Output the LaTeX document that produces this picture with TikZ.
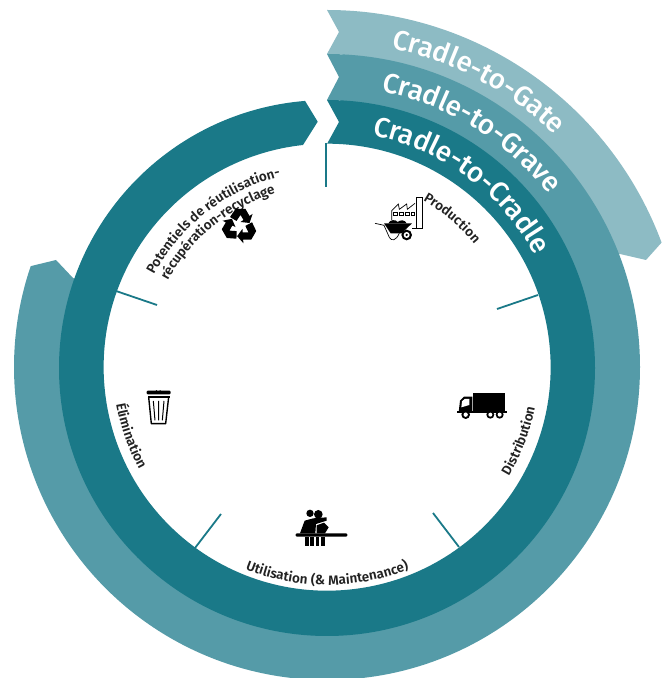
\documentclass[tikz,border=0pt]{standalone}
\usepackage{fontspec}
\setmainfont{Fira Sans}
\newfontfamily\bandfam{Fira Sans Medium}
\newfontfamily\labfam{Fira Sans SemiBold}
\definecolor{darkteal}{HTML}{1A7988}
\definecolor{midteal}{HTML}{559BA8}
\definecolor{lightteal}{HTML}{8DBBC4}
\definecolor{labelink}{HTML}{222222}
\tikzset{
  tick/.style={draw=darkteal,line width=1.8pt},
  ink/.style={fill=black,draw=none},
  inkline/.style={draw=black,fill=none,line width=0.9pt},
  paper/.style={fill=white,draw=none},
  px/.style={x=1pt,y=-1pt,yshift=678pt},
  glyph/.style={anchor=base,inner sep=0pt,outer sep=0pt},
}
\newlength\arcw
\newlength\arcp
\newcount\arcid
\makeatletter
% #1 radius, #2 start angle, #3 direction (+1 anticlockwise, -1 clockwise), #4 font, #5 colour, #6 text
\newcommand{\arctext}[6]{%
  \def\arc@prefix{}%
  \@tfor\arc@c:=#6\do{%
    \settowidth{\arcp}{\let\selectfont\pgf@selectfontorig #4\arc@prefix\arc@c}%
    \settowidth{\arcw}{\let\selectfont\pgf@selectfontorig #4\arc@c}%
    \pgfmathsetmacro\arc@ang{#2+(#3)*(\arcp-0.5*\arcw)/#1*57.29578}%
    \pgfmathsetmacro\arc@rot{\arc@ang+(#3)*90}%
    \global\advance\arcid by 1
    \node[glyph,rotate=\arc@rot,font=#4,text=#5] (g\the\arcid) at ([shift={(\arc@ang:#1)}]c) {\arc@c};%
    \edef\arc@prefix{\unexpanded\expandafter{\arc@prefix}\unexpanded\expandafter{\arc@c}}%
  }%
}
\makeatother
\newcommand{\bandf}{\bandfam\fontsize{27.8}{27.8}\selectfont}
\newcommand{\labf}{\labfam\fontsize{13.5}{13.5}\selectfont}
\begin{document}
\begin{tikzpicture}[x=1pt,y=1pt]
\useasboundingbox (0,0) rectangle (668,678);
\coordinate (c) at (327,311);
% rings
\fill[lightteal] (327,668) arc[start angle=90,end angle=20.4,radius=357pt] -- (646,418) -- (620,424)
  -- ([shift={(22:300)}]c) arc[start angle=22,end angle=87,radius=300pt] -- (342.7,623.6) -- (327,624) -- (339,646) -- cycle;
\fill[midteal] (327,624) arc[start angle=90,end angle=-198.8,radius=313pt] -- (56,418) -- (73,400)
  -- ([shift={(-199.3:255)}]c) arc[start angle=-199.3,end angle=87,radius=255pt] -- (340.3,577.7) -- (327,578) -- (339,601) -- cycle;
\fill[darkteal] (327,578) arc[start angle=90,end angle=-265.3,radius=268pt] -- (317.7,556.3) -- (303,533)
  arc[start angle=-263.8,end angle=90,radius=223.5pt] -- (339,556) -- cycle;
% ticks
\draw[tick] (326.2,535) -- (326.2,491);
\draw[tick] (497,369) -- (538,383);
\draw[tick] (433,165) -- (459,131);
\draw[tick] (221,164) -- (195,130);
\draw[tick] (157,373) -- (116,387);
% band labels
\arctext{325}{78.5}{-1}{\bandf}{white}{Cradle-to-Gate}
\arctext{281}{78.8}{-1}{\bandf}{white}{Cradle-to-Grave}
\arctext{236}{79}{-1}{\bandf}{white}{Cradle-to-Cradle}
% stage labels
\arctext{192}{60}{-1}{\labf}{labelink}{Production}
\arctext{212}{-31}{1}{\labf}{labelink}{Distribution}
\arctext{218}{-112}{1}{\labf}{labelink}{Utilisation\ (\&\ Maintenance)}
\arctext{214}{190}{1}{\labf}{labelink}{Élimination}
\arctext{196}{152}{-1}{\labf}{labelink}{Potentiels\ de\ réutilisation-}
\arctext{181}{151.5}{-1}{\labf}{labelink}{récupération-recyclage}
% factory and wheelbarrow
\begin{scope}[px,shift={(360,180)},x=0.3333pt,y=-0.3333pt]
  \draw[inkline,line width=0.7pt] (95,120) -- (95,92) -- (115,72) -- (118,88) -- (140,72) -- (142,88) -- (165,70);
  \draw[inkline,line width=0.8pt] (190,52) -- (170,52) -- (170,145) -- (155,145) (170,145) -- (188,145) -- (188,52);
  \foreach \wx in {100,118,136,153}{\draw[inkline,line width=0.6pt] (\wx,96) rectangle ++(11,11);}
  \fill[ink] (85,130) .. controls (90,118) and (108,118) .. (113,126) .. controls (122,118) and (135,120) .. (140,130) -- cycle;
  \fill[ink] (72,130) -- (156,130) -- (125,160) -- (92,160) -- cycle;
  \draw[inkline,line width=0.7pt] (45,130) -- (72,136) -- (88,172) .. controls (95,185) and (108,182) .. (118,160);
  \fill[ink] (140,165) circle[radius=16];
  \fill[paper] (140,165) circle[radius=9];
  \fill[ink] (140,165) circle[radius=4];
\end{scope}
% truck
\begin{scope}[px,shift={(440,380)},x=0.3333pt,y=-0.3333pt]
  \fill[ink] (100,40) rectangle (196,92);
  \fill[ink] (56,97) -- (60,62) -- (72,50) -- (97,50) -- (97,97) -- cycle;
  \fill[paper] (64,82) -- (66,64) -- (74,57) -- (88,57) -- (88,75) -- cycle;
  \fill[ink] (52,94) rectangle (200,100);
  \foreach \tx/\tr in {77/13,151/12,179/12}{
    \fill[ink] (\tx,104) circle[radius=\tr];
    \fill[paper] (\tx,104) circle[radius=\tr*0.5];}
\end{scope}
% people at a table
\begin{scope}[px,shift={(230,500)},x=0.3333pt,y=-0.3333pt]
  \fill[ink] (240,40) circle[radius=11];
  \fill[ink] (265,43) circle[radius=13];
  \fill[ink] (210,100) -- (224,62) -- (250,55) -- (290,52) -- (290,62) -- (258,72) -- (256,100) -- cycle;
  \fill[ink] (260,76) -- (282,68) -- (296,82) -- (285,100) -- (260,100) -- cycle;
  \fill[ink,rounded corners=1.2pt] (197,100) rectangle (352,110);
  \foreach \lx/\lw in {225/12,240/11,257/11,274/12}{\fill[ink] (\lx,112) rectangle ++(\lw,26);}
\end{scope}
% bin
\begin{scope}[px,shift={(100,375)},x=0.3333pt,y=-0.3333pt]
  \draw[inkline,line width=1pt] (169,46) arc[start angle=180,end angle=0,radius=6];
  \fill[ink,rounded corners=1pt] (140,47) rectangle (212,58);
  \fill[ink] (143,62) rectangle (209,70);
  \draw[inkline,line width=1.4pt,line join=round] (146,66) -- (154,146) -- (197,146) -- (206,66);
  \draw[inkline,line width=1pt] (160,78) -- (165,136) (176,78) -- (176,136) (192,78) -- (187,136);
\end{scope}
% recycling arrows
\begin{scope}[px,shift={(239.5,226)}]
  \foreach \ra in {0,120,240}{
    \fill[ink,rotate=\ra] (-9.5,-9) -- (-4,-17) -- (6,-17) -- (10,-10) -- (13,-12) -- (10,-3) -- (1,-4) -- (4,-6) -- (1,-11) -- (-3,-5) -- cycle;}
\end{scope}
\end{tikzpicture}
\end{document}
